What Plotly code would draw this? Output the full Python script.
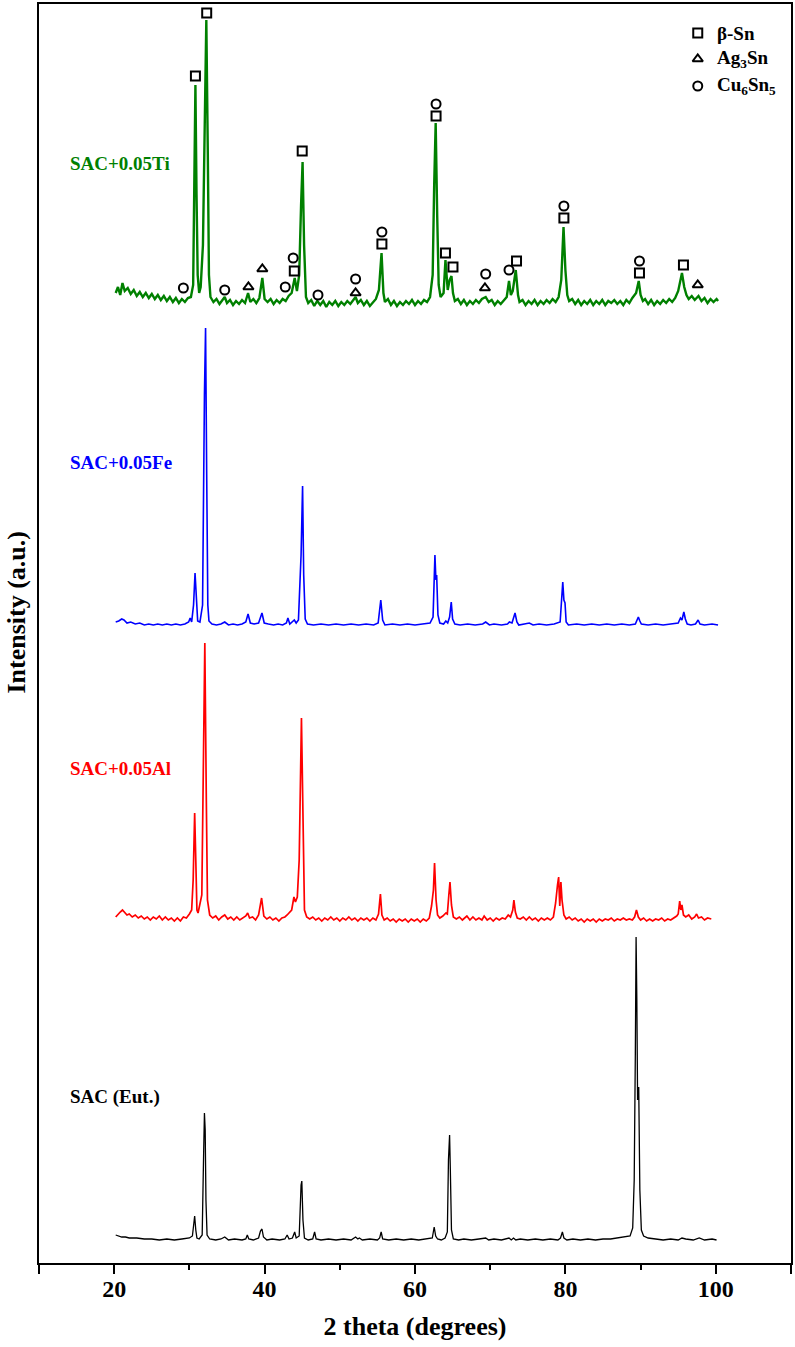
import plotly.graph_objects as go

# XRD patterns: (2theta in degrees, intensity above each pattern's own baseline, a.u.)
TI_PATTERN = [
    (20.2, 12), (20.5, 18), (20.8, 10), (21.1, 22), (21.4, 14), (21.8, 17), (22.2, 11), (22.6, 15),
    (23.0, 9), (23.4, 13), (23.8, 8), (24.2, 12), (24.6, 7), (25.0, 11), (25.4, 6), (25.8, 10),
    (26.2, 5), (26.6, 9), (27.0, 4), (27.4, 8), (27.8, 3), (28.2, 7), (28.6, 2), (29.0, 6),
    (29.4, 3), (29.8, 7), (30.2, 8), (30.5, 20), (30.65, 120), (30.8, 220), (30.95, 110), (31.1, 30),
    (31.3, 12), (31.5, 18), (31.8, 60), (32.05, 180), (32.25, 285), (32.45, 150), (32.6, 30), (32.8, 8),
    (33.2, 3), (33.6, 6), (34.0, 1), (34.4, 5), (34.7, 8), (35.0, 2), (35.4, 5), (35.8, 0),
    (36.2, 4), (36.6, 1), (37.0, 5), (37.4, 2), (37.8, 12), (38.1, 3), (38.5, 6), (38.9, 2),
    (39.3, 7), (39.7, 27), (40.0, 6), (40.4, 3), (40.8, 6), (41.2, 1), (41.6, 5), (42.0, 2),
    (42.4, 6), (42.8, 4), (43.2, 9), (43.6, 12), (44.0, 27), (44.3, 14), (44.6, 30), (44.85, 100),
    (45.05, 143), (45.25, 60), (45.5, 8), (45.8, 2), (46.2, 5), (46.6, -1), (47.0, 4), (47.4, 0),
    (47.8, 4), (48.2, -2), (48.6, 3), (49.0, 0), (49.4, 4), (49.8, -1), (50.2, 3), (50.6, 0),
    (51.0, 4), (51.4, 1), (51.8, 5), (52.1, 8), (52.4, 2), (52.8, 5), (53.2, 0), (53.6, 4),
    (54.0, -1), (54.4, 3), (54.8, 6), (55.2, 15), (55.55, 52), (55.8, 12), (56.0, 3), (56.4, 6),
    (56.8, 0), (57.2, 4), (57.6, -1), (58.0, 3), (58.4, 0), (58.8, 4), (59.2, 1), (59.6, 5),
    (60.0, 0), (60.4, 4), (60.8, 1), (61.2, 5), (61.6, 3), (62.0, 8), (62.35, 30), (62.55, 120),
    (62.75, 182), (62.95, 90), (63.15, 20), (63.4, 8), (63.8, 12), (64.05, 45), (64.35, 15), (64.6, 25),
    (64.85, 29), (65.05, 12), (65.3, 4), (65.7, 6), (66.1, 1), (66.5, 5), (66.9, 0), (67.3, 4),
    (67.7, 1), (68.1, 5), (68.5, 2), (68.9, 6), (69.4, 8), (69.8, 3), (70.2, 5), (70.6, 0),
    (71.0, 4), (71.4, 1), (71.8, 5), (72.2, 8), (72.5, 24), (72.75, 10), (73.0, 14), (73.4, 35),
    (73.7, 10), (73.9, 3), (74.3, 5), (74.7, 0), (75.1, 4), (75.5, 1), (75.9, 5), (76.3, 0),
    (76.7, 4), (77.1, 1), (77.5, 5), (77.9, 2), (78.3, 6), (78.7, 3), (79.1, 8), (79.45, 25),
    (79.75, 78), (80.0, 35), (80.25, 10), (80.5, 4), (80.9, 6), (81.3, 1), (81.7, 5), (82.1, 0),
    (82.5, 4), (82.9, 1), (83.3, 5), (83.7, 0), (84.1, 4), (84.5, 1), (84.9, 5), (85.3, 0),
    (85.7, 4), (86.1, 2), (86.5, 5), (86.9, 1), (87.3, 4), (87.7, 0), (88.1, 5), (88.5, 2),
    (88.9, 7), (89.4, 12), (89.75, 24), (90.0, 10), (90.3, 4), (90.6, 6), (91.0, 1), (91.4, 5),
    (91.8, 0), (92.2, 4), (92.6, 1), (93.0, 5), (93.4, 2), (93.8, 6), (94.2, 3), (94.6, 7),
    (95.0, 14), (95.5, 32), (95.8, 18), (96.1, 10), (96.4, 6), (96.8, 9), (97.2, 5), (97.7, 9),
    (98.1, 4), (98.5, 7), (98.9, 2), (99.3, 6), (99.7, 3), (100.1, 6), (100.3, 4),
]

FE_PATTERN = [
    (20.2, 3), (20.6, 4), (21.0, 6), (21.3, 5), (21.7, 2), (22.2, 3), (22.8, 1), (23.4, 2),
    (24.0, 0), (24.6, 1), (25.2, 0), (25.8, 1), (26.4, 0), (27.0, 1), (27.6, 0), (28.2, 1),
    (28.8, 0), (29.4, 1), (29.9, 3), (30.1, 7), (30.3, 3), (30.55, 20), (30.75, 52), (30.95, 25),
    (31.1, 4), (31.4, 3), (31.75, 20), (32.0, 230), (32.15, 297), (32.3, 150), (32.45, 20), (32.6, 4),
    (33.0, 1), (33.6, 0), (34.2, 1), (34.7, 3), (35.2, 0), (35.8, 1), (36.4, 0), (37.0, 1),
    (37.5, 3), (37.8, 11), (38.1, 2), (38.6, 1), (39.2, 2), (39.65, 12), (39.95, 2), (40.5, 1),
    (41.2, 0), (41.8, 1), (42.4, 0), (42.9, 2), (43.1, 7), (43.35, 1), (43.7, 3), (43.95, 5),
    (44.2, 2), (44.5, 5), (44.85, 70), (45.05, 139), (45.2, 50), (45.4, 6), (45.7, 1), (46.5, 0),
    (47.5, 1), (48.5, 0), (49.5, 1), (50.5, 0), (51.5, 1), (52.5, 0), (53.5, 1), (54.5, 0),
    (55.1, 2), (55.45, 25), (55.7, 5), (56.0, 0), (57.0, 1), (58.0, 0), (59.0, 1), (60.0, 0),
    (61.0, 1), (62.0, 2), (62.4, 8), (62.65, 70), (62.78, 45), (62.88, 50), (63.05, 10), (63.3, 2),
    (63.8, 1), (64.1, 4), (64.35, 2), (64.6, 8), (64.82, 23), (65.0, 6), (65.3, 1), (66.0, 0),
    (67.0, 1), (68.0, 0), (69.0, 1), (69.4, 3), (69.9, 0), (70.5, 1), (71.5, 0), (72.3, 1),
    (72.55, 3), (72.9, 2), (73.3, 12), (73.55, 3), (73.8, 0), (74.5, 1), (75.2, 2), (75.7, 0),
    (76.5, 1), (77.5, 0), (78.5, 1), (79.3, 3), (79.65, 43), (79.8, 25), (79.95, 22), (80.1, 3),
    (80.4, 0), (81.5, 1), (82.5, 0), (83.5, 1), (84.5, 0), (85.5, 1), (86.5, 0), (87.5, 1),
    (88.5, 0), (89.3, 1), (89.7, 8), (89.9, 4), (90.1, 1), (91.0, 0), (92.0, 1), (93.0, 0),
    (94.0, 1), (95.0, 2), (95.3, 7), (95.5, 5), (95.75, 13), (95.95, 6), (96.2, 1), (96.7, 0),
    (97.3, 1), (97.65, 5), (97.9, 1), (98.5, 0), (99.5, 1), (100.3, 0),
]

AL_PATTERN = [
    (20.2, 3), (20.5, 6), (20.8, 8), (21.1, 10), (21.4, 7), (21.7, 5), (22.0, 6), (22.4, 3),
    (22.8, 5), (23.2, 2), (23.6, 4), (24.0, 1), (24.4, 3), (24.8, 0), (25.2, 3), (25.6, 1),
    (26.0, 4), (26.4, 0), (26.8, 3), (27.2, 0), (27.6, 2), (28.0, -1), (28.4, 2), (28.8, -1),
    (29.2, 3), (29.6, 2), (30.0, 6), (30.3, 10), (30.5, 40), (30.7, 107), (30.85, 60), (31.0, 10),
    (31.15, 7), (31.4, 15), (31.65, 25), (31.85, 150), (32.05, 277), (32.25, 120), (32.4, 20), (32.7, 5),
    (33.1, 2), (33.5, 4), (33.9, 0), (34.3, 3), (34.7, 5), (35.1, 1), (35.5, 3), (35.9, 0),
    (36.3, 3), (36.7, 0), (37.1, 2), (37.5, 4), (37.75, 7), (38.0, 2), (38.4, 3), (38.8, 0),
    (39.2, 5), (39.6, 22), (39.9, 4), (40.3, 1), (40.7, 3), (41.1, 0), (41.5, 2), (41.9, -1),
    (42.3, 2), (42.7, 3), (43.0, 5), (43.3, 8), (43.6, 10), (43.9, 23), (44.1, 18), (44.35, 23),
    (44.6, 60), (44.9, 202), (45.1, 90), (45.3, 10), (45.6, 3), (46.0, 1), (46.4, 3), (46.8, 0),
    (47.2, 2), (47.6, -1), (48.0, 2), (48.4, 0), (48.8, 3), (49.2, 0), (49.6, 2), (50.0, -1),
    (50.4, 2), (50.8, 0), (51.2, 3), (51.6, 0), (52.0, 2), (52.4, -1), (52.8, 2), (53.2, 0),
    (53.6, 2), (54.0, -1), (54.4, 2), (54.8, 0), (55.15, 6), (55.4, 26), (55.6, 5), (55.9, 0),
    (56.3, 2), (56.7, -1), (57.1, 1), (57.5, -2), (57.9, 1), (58.3, -1), (58.7, 1), (59.1, -2),
    (59.5, 1), (59.9, -1), (60.3, 1), (60.7, -2), (61.1, 1), (61.5, -1), (61.9, 2), (62.2, 14),
    (62.45, 30), (62.6, 57), (62.8, 20), (63.0, 5), (63.3, 2), (63.7, 4), (64.1, 7), (64.3, 6),
    (64.5, 25), (64.65, 38), (64.85, 15), (65.1, 3), (65.5, 1), (65.9, 3), (66.3, 0), (66.9, 4),
    (67.3, 0), (67.7, 3), (68.1, 0), (68.5, 2), (68.9, 0), (69.2, 4), (69.6, 0), (70.0, 2),
    (70.4, -1), (70.8, 2), (71.2, 0), (71.6, 2), (72.0, 1), (72.4, 5), (72.7, 3), (73.0, 10),
    (73.15, 20), (73.35, 8), (73.6, 2), (74.0, 1), (74.4, 3), (74.8, 0), (75.2, 3), (75.6, 0),
    (76.0, 2), (76.4, -1), (76.8, 2), (77.2, 0), (77.6, 2), (78.0, 0), (78.4, 3), (78.7, 17),
    (78.95, 35), (79.1, 43), (79.25, 14), (79.4, 38), (79.55, 20), (79.8, 5), (80.1, 1), (80.5, 3),
    (80.9, 0), (81.3, 2), (81.7, -1), (82.1, 1), (82.5, -2), (82.9, 1), (83.3, -1), (83.7, 1),
    (84.1, -2), (84.5, 1), (84.9, -1), (85.3, 1), (85.7, 0), (86.1, 2), (86.5, -1), (86.9, 1),
    (87.3, 0), (87.7, 2), (88.1, 0), (88.5, 1), (88.9, 0), (89.2, 3), (89.45, 10), (89.7, 3),
    (90.0, 0), (90.4, 2), (90.8, -1), (91.2, 1), (91.6, -1), (92.0, 1), (92.4, 0), (92.8, 2),
    (93.2, -1), (93.6, 1), (94.0, 0), (94.4, 2), (94.8, 4), (95.0, 6), (95.2, 19), (95.35, 10),
    (95.5, 15), (95.7, 5), (96.0, 3), (96.4, 5), (96.8, 1), (97.2, 3), (97.45, 6), (97.7, 2),
    (98.1, 3), (98.5, 0), (98.9, 2), (99.4, 1),
]

SAC_PATTERN = [
    (20.2, 5), (20.5, 4), (21.0, 3), (21.5, 3), (22.0, 2), (23.0, 2), (24.0, 1), (25.0, 1),
    (26.0, 0), (27.0, 1), (28.0, 0), (29.0, 1), (30.0, 2), (30.4, 4), (30.6, 18), (30.7, 24),
    (30.85, 10), (31.0, 2), (31.3, 1), (31.7, 5), (31.9, 90), (32.0, 127), (32.1, 110), (32.2, 40),
    (32.35, 5), (32.7, 1), (33.5, 0), (34.2, 1), (34.7, 3), (35.2, 0), (36.0, 1), (37.0, 0),
    (37.5, 1), (37.7, 5), (37.9, 1), (38.5, 0), (39.2, 2), (39.45, 9), (39.65, 11), (39.85, 3),
    (40.3, 0), (41.0, 1), (42.0, 0), (42.7, 1), (43.0, 5), (43.25, 1), (43.7, 2), (44.0, 8),
    (44.2, 2), (44.6, 4), (44.85, 55), (44.95, 59), (45.1, 20), (45.3, 2), (45.8, 0), (46.4, 1),
    (46.65, 8), (46.85, 1), (47.5, 0), (48.5, 1), (49.5, 0), (50.5, 1), (51.5, 0), (52.1, 3),
    (52.4, 1), (52.6, 2), (53.0, 0), (54.0, 1), (55.0, 0), (55.3, 2), (55.5, 8), (55.7, 1),
    (56.5, 0), (57.5, 1), (58.5, 0), (59.5, 1), (60.5, 0), (61.5, 1), (62.3, 2), (62.55, 13),
    (62.75, 4), (63.0, 1), (63.5, 0), (64.0, 2), (64.3, 8), (64.45, 80), (64.6, 105), (64.7, 70),
    (64.85, 10), (65.1, 1), (65.8, 0), (66.5, 1), (67.5, 0), (68.5, 1), (69.4, 2), (69.8, 0),
    (70.5, 1), (71.5, 0), (72.2, 1), (72.5, 2), (72.8, 0), (73.1, 2), (73.4, 0), (74.0, 1),
    (75.0, 0), (76.0, 1), (77.0, 0), (78.0, 1), (79.0, 0), (79.35, 2), (79.6, 8), (79.8, 2),
    (80.2, 0), (81.0, 1), (82.0, 0), (83.0, 1), (84.0, 0), (85.0, 1), (86.0, 1), (87.0, 2),
    (88.0, 3), (88.6, 4), (88.95, 12), (89.15, 60), (89.3, 187), (89.4, 303), (89.5, 240), (89.6, 140),
    (89.75, 153), (89.9, 50), (90.1, 10), (90.4, 4), (91.0, 2), (92.0, 1), (93.0, 0), (94.0, 1),
    (95.0, 0), (95.5, 2), (96.0, 1), (97.0, 0), (97.8, 2), (98.5, 0), (99.5, 1), (100.1, 0),
]

# Phase markers on the SAC+0.05Ti pattern: (2theta, height above the Ti baseline)
BETA_SN_MARKS = [(30.8, 229), (32.3, 292), (43.95, 34), (45.0, 154), (55.6, 61), (62.8, 189),
                 (64.05, 52), (65.05, 38), (73.5, 44), (79.8, 87), (89.85, 32), (95.7, 40)]
AG3SN_MARKS = [(37.85, 18), (39.7, 36), (52.1, 12), (69.3, 17), (97.6, 20)]
CU6SN5_MARKS = [(29.2, 17), (34.7, 15), (42.75, 18), (43.8, 47), (47.1, 10), (52.1, 26),
                (55.6, 73), (62.8, 201), (69.4, 31), (72.5, 35), (79.8, 99), (89.85, 44)]

SAMPLE_NAMES = ["SAC+0.05Ti", "SAC+0.05Fe", "SAC+0.05Al", "SAC (Eut.)"]

# vertical stacking offset of each pattern and its colour
OFFSETS = {"SAC+0.05Ti": 958, "SAC+0.05Fe": 638, "SAC+0.05Al": 343, "SAC (Eut.)": 23}
COLORS = {"SAC+0.05Ti": "#008000", "SAC+0.05Fe": "#0000ff", "SAC+0.05Al": "#ff0000", "SAC (Eut.)": "#000000"}
WIDTHS = {"SAC+0.05Ti": 2.4, "SAC+0.05Fe": 1.6, "SAC+0.05Al": 1.7, "SAC (Eut.)": 1.3}
LABEL_Y = {"SAC+0.05Ti": 1100, "SAC+0.05Fe": 801, "SAC+0.05Al": 495, "SAC (Eut.)": 166}

patterns = {"SAC+0.05Ti": TI_PATTERN, "SAC+0.05Fe": FE_PATTERN,
            "SAC+0.05Al": AL_PATTERN, "SAC (Eut.)": SAC_PATTERN}

SERIF = "Liberation Serif, Times New Roman, serif"

fig = go.Figure()

for name in SAMPLE_NAMES:
    pts = patterns[name]
    off = OFFSETS[name]
    fig.add_trace(go.Scatter(
        x=[p[0] for p in pts], y=[p[1] + off for p in pts], mode="lines",
        line=dict(color=COLORS[name], width=WIDTHS[name]), showlegend=False,
    ))
    fig.add_annotation(x=13.9, y=LABEL_Y[name], text=name, showarrow=False, xanchor="left",
                       yanchor="middle", font=dict(family=SERIF, size=19, color=COLORS[name], weight="bold"))

ti_off = OFFSETS["SAC+0.05Ti"]
marker_sets = [(BETA_SN_MARKS, "square-open", 9), (AG3SN_MARKS, "triangle-up-open", 9),
               (CU6SN5_MARKS, "circle-open", 9)]
for marks, symbol, size in marker_sets:
    fig.add_trace(go.Scatter(
        x=[m[0] for m in marks], y=[m[1] + ti_off for m in marks], mode="markers",
        marker=dict(symbol=symbol, size=size, color="black", line=dict(color="black", width=2)),
        showlegend=False,
    ))

# phase key in the upper right corner
key_labels = ["β-Sn", "Ag<sub>3</sub>Sn", "Cu<sub>6</sub>Sn<sub>5</sub>"]
key_y = [1230, 1204, 1177]
for (marks, symbol, size), label, ky in zip(marker_sets, key_labels, key_y):
    fig.add_trace(go.Scatter(
        x=[97.6], y=[ky], mode="markers",
        marker=dict(symbol=symbol, size=size, color="black", line=dict(color="black", width=2)),
        showlegend=False,
    ))
    fig.add_annotation(x=99.9, y=ky, text=label, showarrow=False, xanchor="left", yanchor="middle",
                       font=dict(family=SERIF, size=19, color="black", weight="bold"))

# vertical axis title, set slightly above the middle of the frame
fig.add_annotation(xref="paper", yref="paper", x=-0.030, y=0.517, text="Intensity (a.u.)",
                   textangle=-90, showarrow=False, xanchor="center", yanchor="middle",
                   font=dict(family=SERIF, size=26, color="black", weight="bold"))

axis_common = dict(showline=True, linecolor="black", linewidth=2, mirror=True,
                   showgrid=False, zeroline=False)

fig.update_layout(
    width=795, height=1347,
    margin=dict(l=39, r=2, t=4, b=84),
    paper_bgcolor="white", plot_bgcolor="white",
    xaxis=dict(
        range=[10, 110], **axis_common,
        tickmode="array", tickvals=[10, 20, 40, 60, 80, 100, 110],
        ticktext=["", "20", "40", "60", "80", "100", ""],
        ticks="outside", ticklen=9, tickwidth=2, tickcolor="black",
        minor=dict(tickvals=[30, 50, 70, 90], ticks="outside", ticklen=5, tickwidth=2, tickcolor="black"),
        tickfont=dict(family=SERIF, size=24, color="black", weight="bold"),
        ticklabelstandoff=-6,
        title=dict(text="2 theta (degrees)", standoff=16,
                   font=dict(family=SERIF, size=26, color="black", weight="bold")),
    ),
    yaxis=dict(
        range=[0, 1259], **axis_common, showticklabels=False, ticks="",
    ),
)

fig.write_html("out.html")
